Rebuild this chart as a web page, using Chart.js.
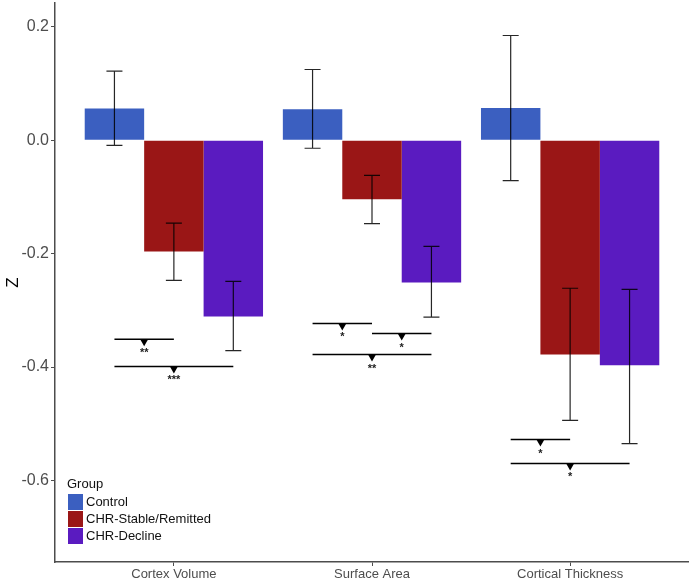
<!DOCTYPE html>
<html>
<head>
<meta charset="utf-8">
<script src="https://cdn.jsdelivr.net/npm/chart.js@4"></script>
<style>
  html, body { margin: 0; padding: 0; background: #fff; }
  #wrap { width: 689px; height: 582px; }
</style>
</head>
<body>
<div id="wrap"><canvas id="chart" width="689" height="582"></canvas></div>
<script>
// categories and groups
const measures = ['Cortex Volume', 'Surface Area', 'Cortical Thickness'];
const measurePos = [1, 2, 3];
const groups = ['Control', 'CHR-Stable/Remitted', 'CHR-Decline'];
const groupColors = ['#3b5fc0', '#9a1616', '#5a1bc0'];

// mean Z and error bar ends per group
const controlMean = [0.056, 0.055, 0.057];
const controlLow = [-0.009, -0.014, -0.071];
const controlHigh = [0.122, 0.125, 0.185];

const stableMean = [-0.196, -0.104, -0.378];
const stableLow = [-0.247, -0.147, -0.494];
const stableHigh = [-0.146, -0.062, -0.261];

const declineMean = [-0.311, -0.251, -0.397];
const declineLow = [-0.371, -0.312, -0.535];
const declineHigh = [-0.249, -0.187, -0.263];

// y axis ticks
const yTicks = [-0.6, -0.4, -0.2, 0.0, 0.2];

// significance brackets (x in measure units)
const bracketFrom = [0.7, 0.7, 1.7, 2.0, 1.7, 2.7, 2.7];
const bracketTo = [1.0, 1.3, 2.0, 2.3, 2.3, 3.0, 3.3];
const bracketY = [-0.351, -0.399, -0.323, -0.341, -0.378, -0.528, -0.570];
const bracketStars = ['**', '***', '*', '*', '**', '*', '*'];

const FONT = "'Liberation Sans', Arial, Helvetica, sans-serif";

const means = [controlMean, stableMean, declineMean];
const lows = [controlLow, stableLow, declineLow];
const highs = [controlHigh, stableHigh, declineHigh];

const datasets = groups.map((g, d) => ({
    label: g,
    data: measurePos.map((x, i) => ({ x: x, y: means[d][i] })),
    backgroundColor: groupColors[d],
    borderWidth: 0
}));

// error bars drawn from the low/high arrays
const errorBars = {
    id: 'errorBars',
    afterDatasetsDraw(chart) {
        const ctx = chart.ctx;
        const y = chart.scales.y;
        ctx.save();
        ctx.strokeStyle = 'rgba(0,0,0,0.85)';
        ctx.lineWidth = 1.2;
        groups.forEach((g, d) => {
            chart.getDatasetMeta(d).data.forEach((bar, i) => {
                const top = y.getPixelForValue(highs[d][i]);
                const bot = y.getPixelForValue(lows[d][i]);
                const half = 8;
                ctx.beginPath();
                ctx.moveTo(bar.x, top); ctx.lineTo(bar.x, bot);
                ctx.moveTo(bar.x - half, top); ctx.lineTo(bar.x + half, top);
                ctx.moveTo(bar.x - half, bot); ctx.lineTo(bar.x + half, bot);
                ctx.stroke();
            });
        });
        ctx.restore();
    }
};

// significance brackets with a down triangle and stars
const brackets = {
    id: 'brackets',
    afterDatasetsDraw(chart) {
        const ctx = chart.ctx;
        const xs = chart.scales.x, ys = chart.scales.y;
        ctx.save();
        bracketY.forEach((v, k) => {
            const x1 = xs.getPixelForValue(bracketFrom[k]);
            const x2 = xs.getPixelForValue(bracketTo[k]);
            const yy = ys.getPixelForValue(v);
            const mid = (x1 + x2) / 2;
            ctx.strokeStyle = '#000';
            ctx.lineWidth = 1.5;
            ctx.beginPath();
            ctx.moveTo(x1, yy); ctx.lineTo(x2, yy);
            ctx.stroke();
            ctx.fillStyle = '#000';
            ctx.beginPath();
            ctx.moveTo(mid - 4, yy);
            ctx.lineTo(mid + 4, yy);
            ctx.lineTo(mid, yy + 7);
            ctx.closePath();
            ctx.fill();
            ctx.fillStyle = '#222';
            ctx.font = 'bold 11px ' + FONT;
            ctx.textAlign = 'center';
            ctx.textBaseline = 'middle';
            ctx.fillText(bracketStars[k], mid, yy + 14);
        });
        ctx.restore();
    }
};

// legend inside the plot, bottom left
const insideLegend = {
    id: 'insideLegend',
    afterDraw(chart) {
        const ctx = chart.ctx;
        const a = chart.chartArea;
        const left = a.left + 13;
        let top = a.bottom - 86;
        ctx.save();
        ctx.font = '13px ' + FONT;
        ctx.textBaseline = 'middle';
        ctx.textAlign = 'left';
        ctx.fillStyle = '#111';
        ctx.fillText('Group', left - 1, top + 8);
        top += 18;
        groups.forEach((g, d) => {
            ctx.fillStyle = groupColors[d];
            ctx.fillRect(left, top + d * 17, 15, 16);
            ctx.fillStyle = '#111';
            ctx.fillText(g, left + 18, top + d * 17 + 8.5);
        });
        ctx.restore();
    }
};

new Chart(document.getElementById('chart'), {
    type: 'bar',
    data: { datasets: datasets },
    options: {
        responsive: false,
        animation: false,
        layout: { padding: { top: 3, right: 0, left: 0, bottom: 0 } },
        datasets: { bar: { categoryPercentage: 0.9, barPercentage: 1.0 } },
        plugins: {
            legend: { display: false },
            tooltip: { enabled: false }
        },
        scales: {
            x: {
                type: 'linear',
                min: 0.4,
                max: 3.6,
                offset: false,
                afterBuildTicks: s => { s.ticks = measurePos.map(v => ({ value: v })); },
                afterFit: s => { s.height = 20; s.paddingLeft = 0; s.paddingRight = 0; },
                grid: { display: true, offset: false, drawOnChartArea: false, drawTicks: true, tickLength: 4, color: '#4d4d4d' },
                border: { display: true, color: '#4d4d4d', width: 1.5 },
                ticks: {
                    padding: 1,
                    color: '#4d4d4d',
                    font: { family: FONT, size: 13 },
                    maxRotation: 0,
                    callback: (v, i) => measures[i]
                }
            },
            y: {
                min: -0.744,
                max: 0.2423,
                afterBuildTicks: s => { s.ticks = yTicks.map(v => ({ value: v })); },
                afterFit: s => { s.width = 55; s.paddingTop = 0; s.paddingBottom = 0; },
                grid: { display: true, drawOnChartArea: false, drawTicks: true, tickLength: 4, color: '#4d4d4d' },
                border: { display: true, color: '#4d4d4d', width: 1.5 },
                ticks: {
                    padding: 2,
                    color: '#4d4d4d',
                    font: { family: FONT, size: 16 },
                    callback: v => v.toFixed(1)
                },
                title: {
                    display: true,
                    text: 'Z',
                    color: '#000',
                    font: { family: FONT, size: 17 },
                    padding: { top: 3, bottom: 0 }
                }
            }
        }
    },
    plugins: [errorBars, brackets, insideLegend]
});
</script>
</body>
</html>
